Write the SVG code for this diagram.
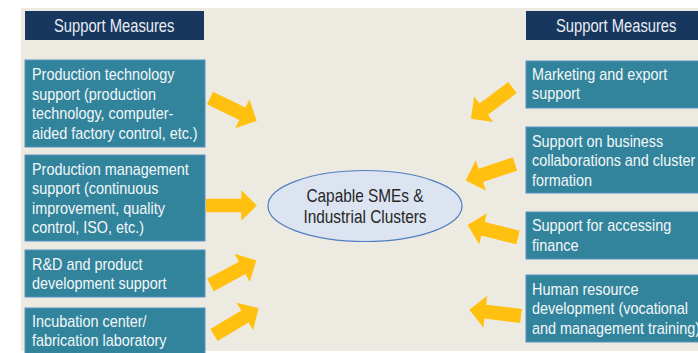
<svg xmlns="http://www.w3.org/2000/svg" xmlns:xlink="http://www.w3.org/1999/xlink" width="698" height="353" viewBox="0 0 698 353">
<style>
.hdr{fill:#17375E}
.hdrt{fill:#E9EEF4;font-family:"Liberation Sans",Arial,sans-serif;font-size:18px}
.box{fill:#31849B;stroke:#5B8FC4;stroke-width:1}
.bt{fill:#F4F7F9;font-family:"Liberation Sans",Arial,sans-serif;font-size:16px}
.ell{fill:#DCE4F2;stroke:#4F7EC0;stroke-width:1.2}
.et{fill:#262626;font-family:"Liberation Sans",Arial,sans-serif;font-size:17.5px;text-anchor:middle}
.arr{fill:#FFC010}
</style>
<defs>
<path id="arrow" d="M0,-7 H36 V-16 L52,0 L36,16 V7 H0 Z"/>
</defs>
<rect x="0" y="0" width="698" height="353" fill="#FFFFFF"/>
<rect x="21" y="8" width="677" height="343" fill="#EDEAE1"/>

<g id="header-left">
<rect class="hdr" x="25" y="11" width="179" height="29"/>
<text class="hdrt" transform="translate(54 32) scale(0.82 1)">Support Measures</text>
</g>
<g id="header-right">
<rect class="hdr" x="526" y="11" width="180" height="29"/>
<text class="hdrt" transform="translate(556 32) scale(0.82 1)">Support Measures</text>
</g>

<g id="node-production-technology">
<rect class="box" x="25" y="60" width="180" height="87"/>
<text class="bt" transform="translate(32 80) scale(0.9 1)"><tspan x="0" y="0">Production technology</tspan><tspan x="0" y="19.6">support (production</tspan><tspan x="0" y="39.2">technology, computer-</tspan><tspan x="0" y="58.8">aided factory control, etc.)</tspan></text>
</g>
<g id="node-production-management">
<rect class="box" x="25" y="155" width="180" height="86"/>
<text class="bt" transform="translate(32 174.5) scale(0.9 1)"><tspan x="0" y="0">Production management</tspan><tspan x="0" y="19.6">support (continuous</tspan><tspan x="0" y="39.2">improvement, quality</tspan><tspan x="0" y="58.8">control, ISO, etc.)</tspan></text>
</g>
<g id="node-rnd">
<rect class="box" x="25" y="250" width="180" height="47"/>
<text class="bt" transform="translate(32 269.5) scale(0.9 1)"><tspan x="0" y="0">R&amp;D and product</tspan><tspan x="0" y="19.6">development support</tspan></text>
</g>
<g id="node-incubation">
<rect class="box" x="25" y="308" width="180" height="52"/>
<text class="bt" transform="translate(32 326.5) scale(0.9 1)"><tspan x="0" y="0">Incubation center/</tspan><tspan x="0" y="19.6">fabrication laboratory</tspan></text>
</g>

<g id="node-marketing">
<rect class="box" x="526" y="61" width="180" height="47"/>
<text class="bt" transform="translate(532 79.5) scale(0.9 1)"><tspan x="0" y="0">Marketing and export</tspan><tspan x="0" y="19.6">support</tspan></text>
</g>
<g id="node-collaboration">
<rect class="box" x="526" y="127" width="180" height="66"/>
<text class="bt" transform="translate(532 146.5) scale(0.9 1)"><tspan x="0" y="0">Support on business</tspan><tspan x="0" y="19.6">collaborations and cluster</tspan><tspan x="0" y="39.2">formation</tspan></text>
</g>
<g id="node-finance">
<rect class="box" x="526" y="212" width="180" height="47"/>
<text class="bt" transform="translate(532 231) scale(0.9 1)"><tspan x="0" y="0">Support for accessing</tspan><tspan x="0" y="19.6">finance</tspan></text>
</g>
<g id="node-hrd">
<rect class="box" x="526" y="275" width="180" height="67"/>
<text class="bt" transform="translate(532 294.5) scale(0.9 1)"><tspan x="0" y="0">Human resource</tspan><tspan x="0" y="19.6">development (vocational</tspan><tspan x="0" y="39.2">and management training)</tspan></text>
</g>

<g id="node-center">
<ellipse class="ell" cx="365" cy="206" rx="97" ry="35.5"/>
<text class="et" transform="translate(365 201.5) scale(0.88 1)"><tspan x="0" y="0">Capable SMEs &amp;</tspan><tspan x="0" y="22">Industrial Clusters</tspan></text>
</g>

<g id="connectors" class="arr">
<use xlink:href="#arrow" transform="translate(210 98) rotate(26.1)"/>
<use xlink:href="#arrow" transform="translate(206 205.5) rotate(0) scale(0.98 0.95)"/>
<use xlink:href="#arrow" transform="translate(210.5 285) rotate(-28.3)"/>
<use xlink:href="#arrow" transform="translate(214 335) rotate(-31)"/>
<use xlink:href="#arrow" transform="translate(512.5 87.5) rotate(143)"/>
<use xlink:href="#arrow" transform="translate(515 164) rotate(161.6)"/>
<use xlink:href="#arrow" transform="translate(518 237.5) rotate(-166)"/>
<use xlink:href="#arrow" transform="translate(521 316) rotate(-173)"/>
</g>
</svg>
